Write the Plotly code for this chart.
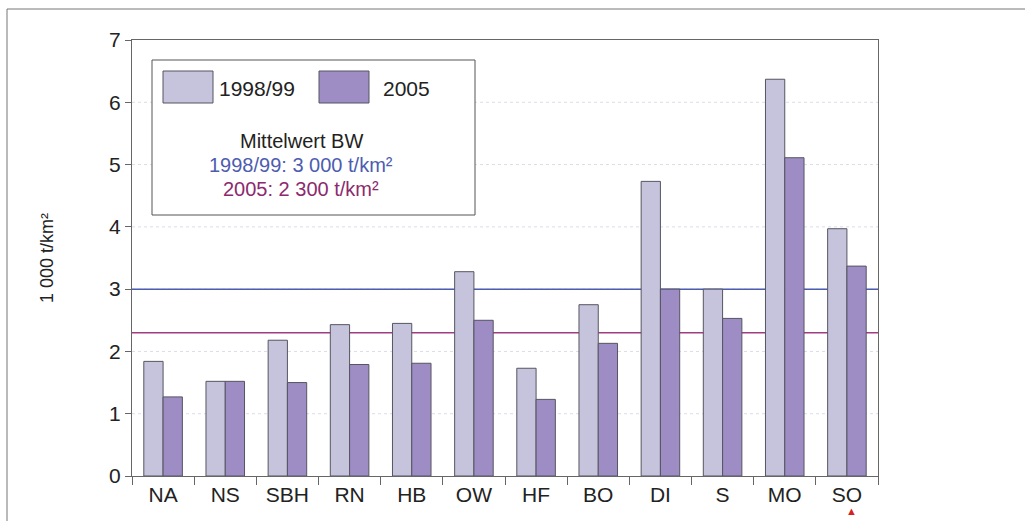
import plotly.graph_objects as go

categories = ["NA", "NS", "SBH", "RN", "HB", "OW", "HF", "BO", "DI", "S", "MO", "SO"]
values_1998 = [1.84, 1.52, 2.18, 2.43, 2.45, 3.28, 1.73, 2.75, 4.73, 3.0, 6.37, 3.97]
values_2005 = [1.27, 1.52, 1.50, 1.79, 1.81, 2.50, 1.23, 2.13, 3.0, 2.53, 5.11, 3.37]
series_names = ["1998/99", "2005"]
mean_1998 = 3.0
mean_2005 = 2.3
y_ticks = [0, 1, 2, 3, 4, 5, 6, 7]

C_LIGHT = "#c6c4dc"
C_DARK = "#9e8dc5"
C_EDGE = "#555560"
C_BLUE = "#4d5cb0"
C_PURPLE = "#a03c80"
FONT = "Liberation Sans, Arial, sans-serif"

W, H = 1025, 521
L, R, T, B = 132, 878, 40, 476
pw, ph = R - L, B - T


def px(x):
    return (x - L) / pw


def py(y):
    return (B - y) / ph


fig = go.Figure()
fig.add_trace(go.Bar(x=categories, y=values_1998, name=series_names[0],
                     marker=dict(color=C_LIGHT, line=dict(color=C_EDGE, width=1)),
                     showlegend=False))
fig.add_trace(go.Bar(x=categories, y=values_2005, name=series_names[1],
                     marker=dict(color=C_DARK, line=dict(color=C_EDGE, width=1)),
                     showlegend=False))

shapes = []
# faint dotted grid (drawn below the bars)
for v in y_ticks[1:-1]:
    shapes.append(dict(type="line", xref="paper", x0=0, x1=1, yref="y", y0=v, y1=v,
                       line=dict(color="#dcdcea", width=1, dash="dot"), layer="below"))
shapes += [
    # mean lines
    dict(type="line", xref="paper", x0=0, x1=1, yref="y", y0=mean_1998, y1=mean_1998,
         line=dict(color=C_BLUE, width=1.5), layer="below"),
    dict(type="line", xref="paper", x0=0, x1=1, yref="y", y0=mean_2005, y1=mean_2005,
         line=dict(color=C_PURPLE, width=1.5), layer="below"),
    # outer frame
    dict(type="rect", xref="paper", yref="paper", x0=px(7), x1=px(1040), y0=py(530), y1=py(9),
         line=dict(color="#777777", width=1)),
    # legend box
    dict(type="rect", xref="paper", yref="paper", x0=px(152), x1=px(475), y0=py(215), y1=py(60),
         line=dict(color="#555555", width=1), fillcolor="white"),
    dict(type="rect", xref="paper", yref="paper", x0=px(163), x1=px(213), y0=py(103), y1=py(71),
         line=dict(color=C_EDGE, width=1), fillcolor=C_LIGHT),
    dict(type="rect", xref="paper", yref="paper", x0=px(319), x1=px(369), y0=py(103), y1=py(71),
         line=dict(color=C_EDGE, width=1), fillcolor=C_DARK),
]

annotations = [
    dict(text=series_names[0], x=px(217), y=py(88), xref="paper", yref="paper",
         xanchor="left", yanchor="middle", showarrow=False, font=dict(size=21, color="#222222")),
    dict(text=series_names[1], x=px(381), y=py(88), xref="paper", yref="paper",
         xanchor="left", yanchor="middle", showarrow=False, font=dict(size=21, color="#222222")),
    dict(text="Mittelwert BW", x=px(301), y=py(141), xref="paper", yref="paper",
         xanchor="center", yanchor="middle", showarrow=False, font=dict(size=20, color="#222222")),
    dict(text="1998/99: 3 000 t/km²", x=px(301), y=py(165), xref="paper", yref="paper",
         xanchor="center", yanchor="middle", showarrow=False, font=dict(size=20, color=C_BLUE)),
    dict(text="2005: 2 300 t/km²", x=px(301), y=py(189), xref="paper", yref="paper",
         xanchor="center", yanchor="middle", showarrow=False, font=dict(size=20, color="#8b2a6e")),
    dict(text="▲", x=px(851), y=py(519), xref="paper", yref="paper",
         xanchor="center", yanchor="bottom", showarrow=False, font=dict(size=11, color="#d82020")),
]

fig.update_layout(
    width=W, height=H,
    margin=dict(l=L, r=W - R, t=T, b=H - B),
    paper_bgcolor="white", plot_bgcolor="white",
    barmode="group", bargap=0.38, bargroupgap=0.0,
    font=dict(family=FONT, size=20, color="#222222"),
    shapes=shapes, annotations=annotations,
    xaxis=dict(showline=True, linecolor="#666666", linewidth=1, mirror=True,
               ticks="outside", ticklen=8, tickcolor="#666666", tickson="boundaries",
               tickfont=dict(size=21, color="#222222"), showgrid=False, automargin=False),
    yaxis=dict(range=[0, 7], tickvals=y_ticks, showline=True, linecolor="#666666", linewidth=1,
               mirror=True, ticks="outside", ticklen=6, tickcolor="#666666",
               tickfont=dict(size=21, color="#222222"), automargin=False,
               showgrid=False, zeroline=False,
               title=dict(text="1 000 t/km²", font=dict(size=18, color="#222222"), standoff=50)),
)

fig.write_html("out.html", config={"displayModeBar": False},
               post_script="document.body.style.margin='0';document.body.style.overflow='hidden';")
